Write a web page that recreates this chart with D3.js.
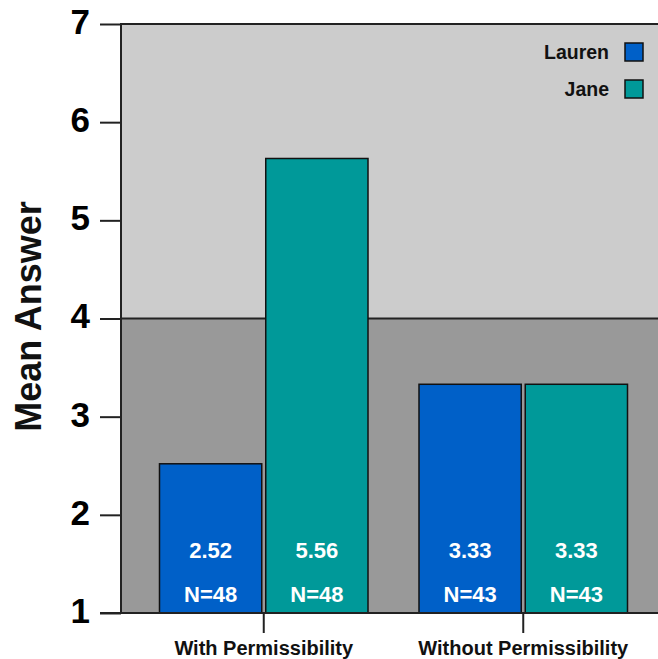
<!DOCTYPE html>
<html>
<head>
<meta charset="utf-8">
<script src="https://cdn.jsdelivr.net/npm/d3@7"></script>
<style>
  html, body { margin: 0; padding: 0; background: #ffffff; }
  svg { display: block; }
  text { font-family: "Liberation Sans", Arial, Helvetica, sans-serif; font-weight: bold; }
</style>
</head>
<body>
<svg id="chart" width="658" height="659"></svg>
<script>
// ---- data ----
const categories = ["With Permissibility", "Without Permissibility"];
const seriesNames = ["Lauren", "Jane"];
const laurenMeans = [2.52, 3.33];
const janeMeans = [5.63, 3.33];
const laurenLabels = ["2.52", "3.33"];
const janeLabels = ["5.56", "3.33"];
const laurenN = ["N=48", "N=43"];
const janeN = ["N=48", "N=43"];
const yTicks = [1, 2, 3, 4, 5, 6, 7];
const yLabel = "Mean Answer";

const colors = { Lauren: "#0060c8", Jane: "#009999" };

const rows = [];
categories.forEach((c, i) => {
  rows.push({ cat: c, series: "Lauren", value: laurenMeans[i], label: laurenLabels[i], n: laurenN[i] });
  rows.push({ cat: c, series: "Jane", value: janeMeans[i], label: janeLabels[i], n: janeN[i] });
});

// ---- layout ----
const svg = d3.select("#chart");
const plotLeft = 121, plotRight = 658;

const y = d3.scaleLinear().domain([1, 7]).range([613, 24]);
const x = d3.scaleBand().domain(categories).range([134, 653]).padding(0);
const xs = d3.scaleBand().domain(seriesNames).range([25.5, 234]).paddingInner(0.0376).paddingOuter(0);

// backgrounds
svg.append("rect").attr("x", plotLeft).attr("y", y(7)).attr("width", plotRight - plotLeft)
  .attr("height", y(4) - y(7)).attr("fill", "#cccccc");
svg.append("rect").attr("x", plotLeft).attr("y", y(4)).attr("width", plotRight - plotLeft)
  .attr("height", y(1) - y(4)).attr("fill", "#999999");

// divider line at 4
svg.append("line").attr("x1", plotLeft).attr("x2", plotRight).attr("y1", y(4)).attr("y2", y(4))
  .attr("stroke", "#222").attr("stroke-width", 2);
// top border
svg.append("line").attr("x1", plotLeft).attr("x2", plotRight).attr("y1", y(7)).attr("y2", y(7))
  .attr("stroke", "#222").attr("stroke-width", 2);

// bars
const bars = svg.append("g");
bars.selectAll("rect").data(rows).join("rect")
  .attr("x", d => x(d.cat) + xs(d.series))
  .attr("y", d => y(d.value))
  .attr("width", xs.bandwidth())
  .attr("height", d => y(1) - y(d.value))
  .attr("fill", d => colors[d.series])
  .attr("stroke", "#111")
  .attr("stroke-width", 1.5);

// value labels
bars.selectAll("text.val").data(rows).join("text").attr("class", "val")
  .attr("x", d => x(d.cat) + xs(d.series) + xs.bandwidth() / 2)
  .attr("y", y(1) - 55)
  .attr("text-anchor", "middle")
  .attr("fill", "#ffffff")
  .attr("font-size", 22)
  .text(d => d.label);
bars.selectAll("text.n").data(rows).join("text").attr("class", "n")
  .attr("x", d => x(d.cat) + xs(d.series) + xs.bandwidth() / 2)
  .attr("y", y(1) - 11)
  .attr("text-anchor", "middle")
  .attr("fill", "#ffffff")
  .attr("font-size", 22)
  .text(d => d.n);

// y axis
const yAxis = svg.append("g").attr("transform", `translate(${plotLeft},0)`)
  .call(d3.axisLeft(y).tickValues(yTicks).tickFormat(d3.format("d")).tickSize(21).tickPadding(10));
yAxis.select(".domain").remove();
yAxis.selectAll(".tick line").attr("stroke", "#222").attr("stroke-width", 2);
yAxis.selectAll(".tick text").attr("font-size", 35).attr("fill", "#000")
  .attr("dy", "0.27em")
  .style("font-family", "'Liberation Sans', Arial, sans-serif").style("font-weight", "bold");
svg.append("line").attr("x1", plotLeft).attr("x2", plotLeft).attr("y1", y(7) - 1).attr("y2", y(1) + 1)
  .attr("stroke", "#222").attr("stroke-width", 2);

// x axis
const xAxis = svg.append("g").attr("transform", `translate(0,${y(1)})`)
  .call(d3.axisBottom(x).tickSize(20).tickPadding(0));
xAxis.select(".domain").remove();
xAxis.selectAll(".tick line").attr("stroke", "#222").attr("stroke-width", 2);
xAxis.selectAll(".tick text").attr("font-size", 20).attr("fill", "#111")
  .attr("y", 42).attr("dy", 0)
  .style("font-family", "'Liberation Sans', Arial, sans-serif").style("font-weight", "bold");
svg.append("line").attr("x1", plotLeft - 21).attr("x2", plotRight).attr("y1", y(1)).attr("y2", y(1))
  .attr("stroke", "#222").attr("stroke-width", 2);

// y label
svg.append("text")
  .attr("transform", `translate(41,${(y(1) + y(7)) / 2 - 2}) rotate(-90)`)
  .attr("text-anchor", "middle")
  .attr("font-size", 36)
  .attr("fill", "#111")
  .text(yLabel);

// legend
const legend = svg.append("g");
seriesNames.forEach((s, i) => {
  const top = 43 + i * 37;
  legend.append("rect").attr("x", 625).attr("y", top).attr("width", 18).attr("height", 18)
    .attr("fill", colors[s]).attr("stroke", "#111").attr("stroke-width", 1.5);
  legend.append("text").attr("x", 609).attr("y", top + 16)
    .attr("text-anchor", "end").attr("font-size", 19.5).attr("fill", "#111").text(s);
});
</script>
</body>
</html>
